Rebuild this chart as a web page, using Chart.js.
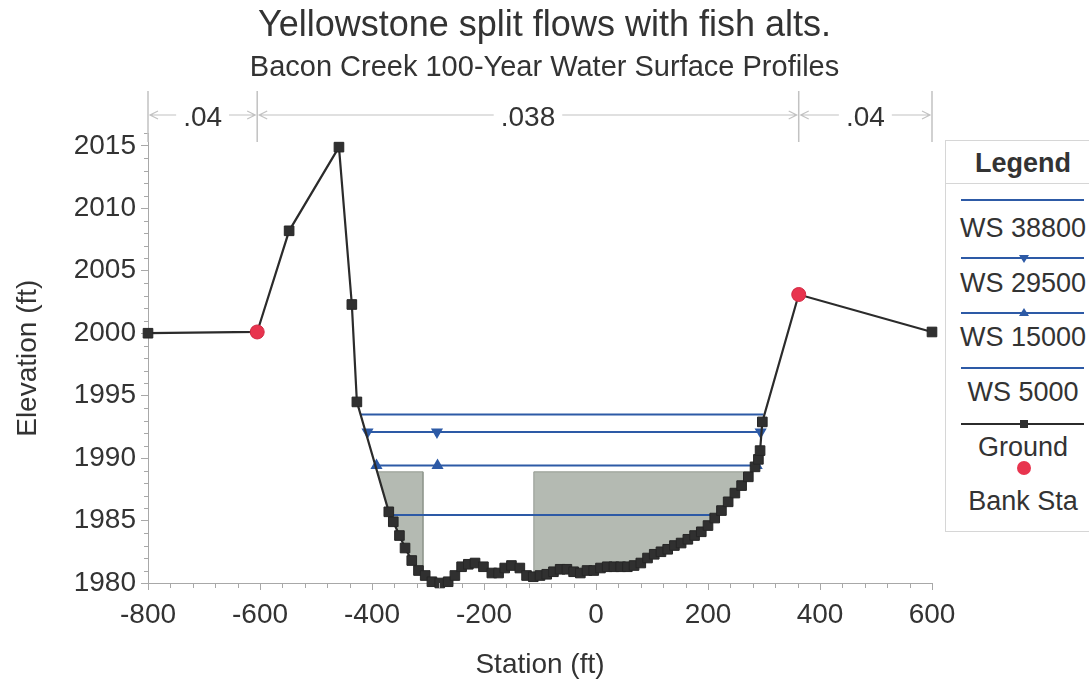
<!DOCTYPE html>
<html>
<head>
<meta charset="utf-8">
<script src="https://cdn.jsdelivr.net/npm/chart.js@4/dist/chart.umd.min.js"></script>
<style>
html,body{margin:0;padding:0;background:#fff;overflow:hidden;}
#wrap{position:relative;width:1089px;height:682px;overflow:hidden;}
#c{position:absolute;left:0;top:0;}
#legend{position:absolute;left:945px;top:140px;width:160px;height:390px;border:1px solid #d6d6d6;background:#fff;font-family:"Liberation Sans",Arial,Helvetica,sans-serif;color:#333;}
#legend .t{position:absolute;left:0;width:154px;text-align:center;font-size:27px;line-height:30px;white-space:nowrap;}
#legend .h{font-weight:bold;}
#legend .sep{position:absolute;left:0;width:160px;top:42px;height:0;border-top:1px solid #d6d6d6;}
#legend svg{position:absolute;left:0;top:0;}
</style>
</head>
<body>
<div id="wrap">
<canvas id="c" width="1089" height="682"></canvas>
<div id="legend"></div>
</div>
<script>
const FONT = '"Liberation Sans", Arial, Helvetica, sans-serif';
const TEXT = '#333333';

// ---- data ----
const xTickValues = [-800, -600, -400, -200, 0, 200, 400, 600];
const yTickValues = [1980, 1985, 1990, 1995, 2000, 2005, 2010, 2015];

const groundSta = [-800,-605,-548,-459,-436,-427,-370,-362,-351,-341,-329,-317,-305,-293,-279,-264,-252,-240,-228,-216,-201,-186,-174,-163,-151,-136,-124,-112,-100,-88,-76,-64,-52,-40,-28,-16,-4,8,20,32,44,56,68,80,92,104,116,128,140,152,164,176,188,200,212,224,236,248,260,272,284,290,293,297,362,600];
const groundElev = [2000.0,2000.1,2008.2,2014.9,2002.3,1994.5,1985.7,1984.9,1983.8,1982.8,1981.8,1981.0,1980.6,1980.1,1980.0,1980.1,1980.6,1981.3,1981.5,1981.6,1981.3,1980.8,1980.8,1981.2,1981.4,1981.2,1980.6,1980.5,1980.6,1980.7,1980.9,1981.1,1981.1,1980.9,1980.8,1981.0,1981.0,1981.2,1981.3,1981.3,1981.3,1981.3,1981.4,1981.6,1982.0,1982.3,1982.5,1982.7,1983.0,1983.2,1983.5,1983.8,1984.1,1984.6,1985.2,1985.8,1986.5,1987.2,1987.8,1988.5,1989.3,1989.9,1990.6,1992.9,2003.1,2000.1];

const bankSta = [-605, 362];
const bankElev = [2000.1, 2003.1];

const ws38800Sta = [-420, 299];
const ws38800Elev = [1993.5, 1993.5];
const ws29500Sta = [-408, -284, 294];
const ws29500Elev = [1992.1, 1992.1, 1992.1];
const ws15000Sta = [-392, -283, 287];
const ws15000Elev = [1989.4, 1989.4, 1989.4];
const ws5000Sta = [-370, 215];
const ws5000Elev = [1985.45, 1985.45];

// ineffective flow areas
const ineffFrom = [-800, -111];
const ineffTo = [-309, 600];
const ineffElev = [1988.9, 1988.9];

const nValues = ['.04', '.038', '.04'];

const seriesNames = ['WS 38800', 'WS 29500', 'WS 15000', 'WS 5000', 'Ground', 'Bank Sta'];

// ---- helpers ----
const pts = (xs, ys) => xs.map((x, i) => ({x: x, y: ys[i]}));
function groundAt(x) {
  for (let i = 0; i < groundSta.length - 1; i++) {
    const x1 = groundSta[i], x2 = groundSta[i + 1];
    if (x >= x1 && x <= x2) {
      return groundElev[i] + (groundElev[i + 1] - groundElev[i]) * (x - x1) / (x2 - x1);
    }
  }
  return groundElev[groundElev.length - 1];
}
function ineffPolygon(a, b, e) {
  let xs = [a, b];
  for (let i = 0; i < groundSta.length - 1; i++) {
    const x1 = groundSta[i], x2 = groundSta[i + 1], y1 = groundElev[i], y2 = groundElev[i + 1];
    if (x1 > a && x1 < b) xs.push(x1);
    if ((y1 - e) * (y2 - e) < 0) {
      const xc = x1 + (e - y1) / (y2 - y1) * (x2 - x1);
      if (xc > a && xc < b) xs.push(xc);
    }
  }
  xs.sort((p, q) => p - q);
  xs = xs.filter(x => groundAt(x) <= e + 1e-6);
  const top = [{x: xs[0], y: e}, {x: xs[xs.length - 1], y: e}];
  const bottom = xs.slice().reverse().map(x => ({x: x, y: groundAt(x)}));
  return top.concat(bottom, [top[0]]);
}

const BLUE = '#2d5aa6';
const ineffDatasets = ineffFrom.map((a, i) => ({
  label: 'ineff' + i,
  data: ineffPolygon(a, ineffTo[i], ineffElev[i]),
  showLine: true,
  fill: 'shape',
  backgroundColor: '#b4bab2',
  borderColor: '#949a92',
  borderWidth: 1,
  pointRadius: 0,
  tension: 0,
  order: 10
}));

const wsLine = (label, xs, ys, marker) => ({
  label: label,
  data: pts(xs, ys),
  showLine: true,
  borderColor: BLUE,
  borderWidth: 2,
  backgroundColor: BLUE,
  pointRadius: marker ? 5 : 0,
  pointStyle: 'triangle',
  rotation: marker === 'down' ? 180 : 0,
  pointBorderColor: BLUE,
  pointBackgroundColor: BLUE,
  order: 3
});

const datasets = [
  ...ineffDatasets,
  wsLine(seriesNames[0], ws38800Sta, ws38800Elev, null),
  wsLine(seriesNames[1], ws29500Sta, ws29500Elev, 'down'),
  wsLine(seriesNames[2], ws15000Sta, ws15000Elev, 'up'),
  wsLine(seriesNames[3], ws5000Sta, ws5000Elev, null),
  {
    label: seriesNames[4],
    data: pts(groundSta, groundElev),
    showLine: true,
    clip: false,
    borderColor: '#2b2b2b',
    borderWidth: 2.2,
    pointStyle: 'rect',
    pointRadius: 6.8,
    pointBackgroundColor: '#303030',
    pointBorderColor: '#262626',
    pointBorderWidth: 1,
    order: 2
  },
  {
    label: seriesNames[5],
    data: pts(bankSta, bankElev),
    showLine: false,
    clip: false,
    pointStyle: 'circle',
    pointRadius: 7,
    pointBackgroundColor: '#e8344e',
    pointBorderColor: '#d42a44',
    pointBorderWidth: 1,
    order: 0
  }
];

// minor ticks + n-value annotation plugin
const extras = {
  id: 'extras',
  afterDraw(chart) {
    const ctx = chart.ctx;
    const xs = chart.scales.x, ys = chart.scales.y;
    const area = chart.chartArea;
    ctx.save();
    // minor ticks
    ctx.strokeStyle = '#a8a8a8';
    ctx.lineWidth = 1;
    ctx.beginPath();
    for (let v = xs.min; v <= xs.max; v += 40) {
      if (v % 200 === 0) continue;
      const px = Math.round(xs.getPixelForValue(v)) + 0.5;
      ctx.moveTo(px, area.bottom);
      ctx.lineTo(px, area.bottom + 5);
    }
    for (let v = ys.min; v <= ys.max; v += 1) {
      if (v % 5 === 0) continue;
      const py = Math.round(ys.getPixelForValue(v)) + 0.5;
      ctx.moveTo(area.left - 4, py);
      ctx.lineTo(area.left, py);
    }
    ctx.stroke();

    // n-value annotation
    const bounds = [xs.min, bankSta[0], bankSta[1], xs.max].map(v => xs.getPixelForValue(v));
    const yTop = 91, yBot = 142, yMid = 115;
    ctx.strokeStyle = '#c2c2c2';
    ctx.lineWidth = 1.5;
    ctx.beginPath();
    bounds.forEach(b => { ctx.moveTo(b, yTop); ctx.lineTo(b, yBot); });
    ctx.stroke();
    ctx.font = '28px ' + FONT;
    ctx.textAlign = 'center';
    ctx.textBaseline = 'middle';
    ctx.lineWidth = 1.2;
    for (let i = 0; i < nValues.length; i++) {
      const l = bounds[i], r = bounds[i + 1];
      const cx = (l + r) / 2;
      const w = ctx.measureText(nValues[i]).width;
      ctx.strokeStyle = '#c2c2c2';
      ctx.beginPath();
      ctx.moveTo(l + 2, yMid); ctx.lineTo(cx - w / 2 - 7, yMid);
      ctx.moveTo(cx + w / 2 + 7, yMid); ctx.lineTo(r - 2, yMid);
      // arrowheads
      ctx.moveTo(l + 10, yMid - 4); ctx.lineTo(l + 2, yMid); ctx.lineTo(l + 10, yMid + 4);
      ctx.moveTo(r - 10, yMid - 4); ctx.lineTo(r - 2, yMid); ctx.lineTo(r - 10, yMid + 4);
      ctx.stroke();
      ctx.fillStyle = TEXT;
      ctx.fillText(nValues[i], cx, yMid + 3);
    }
    ctx.restore();
  }
};

new Chart(document.getElementById('c'), {
  type: 'scatter',
  data: {datasets: datasets},
  options: {
    responsive: false,
    animation: false,
    devicePixelRatio: 1,
    layout: {padding: 0},
    plugins: {
      legend: {display: false},
      tooltip: {enabled: false},
      title: {
        display: true,
        text: 'Yellowstone split flows with fish alts.',
        color: TEXT,
        font: {family: FONT, size: 36, weight: 'normal', lineHeight: 1.2},
        padding: {top: 4, bottom: 0}
      },
      subtitle: {
        display: true,
        text: 'Bacon Creek 100-Year Water Surface Profiles',
        color: TEXT,
        font: {family: FONT, size: 29, weight: 'normal', lineHeight: 1.2},
        padding: {top: 3, bottom: 48.4}
      }
    },
    scales: {
      x: {
        type: 'linear',
        position: 'bottom',
        min: -800,
        max: 600,
        afterBuildTicks: s => { s.ticks = xTickValues.map(v => ({value: v})); },
        afterFit: s => { s.height = 99; },
        ticks: {color: TEXT, font: {family: FONT, size: 28, lineHeight: 1.2}, padding: 8, maxRotation: 0, autoSkip: false,
                callback: v => String(v)},
        grid: {display: true, drawOnChartArea: false, drawTicks: true, tickLength: 7, tickColor: '#a8a8a8'},
        border: {display: true, color: '#a8a8a8', width: 1},
        title: {display: true, text: 'Station (ft)', color: TEXT, font: {family: FONT, size: 28, lineHeight: 1.2}, padding: {top: 0, bottom: 0}}
      },
      y: {
        type: 'linear',
        position: 'left',
        min: 1980,
        max: 2016,
        afterBuildTicks: s => { s.ticks = yTickValues.map(v => ({value: v})); },
        afterFit: s => { s.width = 148; },
        ticks: {color: TEXT, font: {family: FONT, size: 28, lineHeight: 1.2}, padding: 5, autoSkip: false,
                callback: v => String(v)},
        grid: {display: true, drawOnChartArea: false, drawTicks: true, tickLength: 7, tickColor: '#a8a8a8'},
        border: {display: true, color: '#a8a8a8', width: 1},
        title: {display: true, text: 'Elevation (ft)', color: TEXT, font: {family: FONT, size: 28, lineHeight: 1.2}, padding: {top: 11, bottom: 0}}
      },
      yRight: {
        type: 'linear',
        position: 'right',
        display: true,
        afterFit: s => { s.width = 157; },
        ticks: {display: false},
        grid: {display: false},
        border: {display: false}
      }
    }
  },
  plugins: [extras]
});

// ---- legend (HTML) ----
(function buildLegend() {
  const lg = document.getElementById('legend');
  const textY = [87, 142, 196, 251, 306, 360];
  const lineY = [59, 117, 172, 227, 283];
  let html = '<div class="t h" style="top:7px">Legend</div><div class="sep"></div>';
  seriesNames.forEach((n, i) => {
    html += '<div class="t" style="top:' + (textY[i] - 15) + 'px">' + n + '</div>';
  });
  let svg = '<svg width="160" height="390" xmlns="http://www.w3.org/2000/svg">';
  for (let i = 0; i < 4; i++) {
    svg += '<line x1="15" x2="138" y1="' + lineY[i] + '" y2="' + lineY[i] + '" stroke="' + BLUE + '" stroke-width="2"/>';
  }
  const mx = 78;
  svg += '<polygon points="' + (mx - 5) + ',' + (lineY[1] - 3) + ' ' + (mx + 5) + ',' + (lineY[1] - 3) + ' ' + mx + ',' + (lineY[1] + 5) + '" fill="' + BLUE + '"/>';
  svg += '<polygon points="' + (mx - 5) + ',' + (lineY[2] + 3) + ' ' + (mx + 5) + ',' + (lineY[2] + 3) + ' ' + mx + ',' + (lineY[2] - 5) + '" fill="' + BLUE + '"/>';
  svg += '<line x1="15" x2="138" y1="' + lineY[4] + '" y2="' + lineY[4] + '" stroke="#2b2b2b" stroke-width="2"/>';
  svg += '<rect x="' + (mx - 4) + '" y="' + (lineY[4] - 4) + '" width="8" height="8" fill="#303030"/>';
  svg += '<circle cx="' + mx + '" cy="327" r="7" fill="#e8344e"/>';
  svg += '</svg>';
  lg.innerHTML = svg + html;
})();
</script>
</body>
</html>
